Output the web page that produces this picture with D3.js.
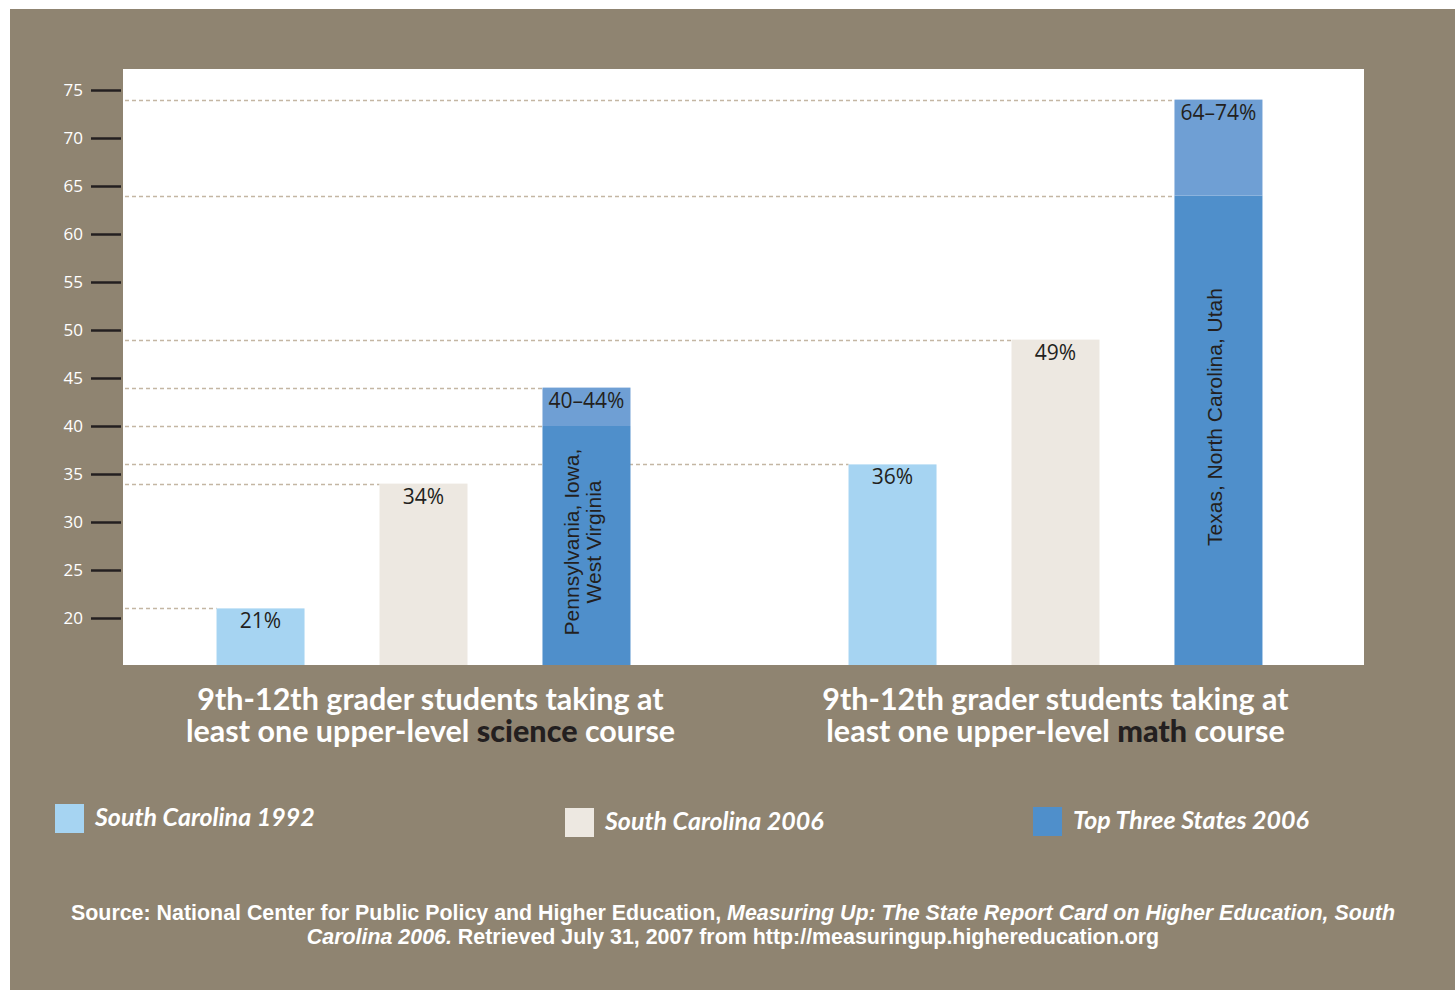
<!DOCTYPE html>
<html>
<head>
<meta charset="utf-8">
<script src="https://cdn.jsdelivr.net/npm/d3@7"></script>
<style>
  body { margin: 0; background: #fff; }
  svg { display: block; }
</style>
</head>
<body>
<svg id="chart" width="1455" height="990"></svg>
<script>
// data
const groups = ['science', 'math'];
const series = ['South Carolina 1992', 'South Carolina 2006', 'Top Three States 2006'];
const sc1992 = [21, 36];
const sc2006 = [34, 49];
const topLow = [40, 64];
const topHigh = [44, 74];
const topStates = [['Pennsylvania, Iowa,', 'West Virginia'], ['Texas, North Carolina, Utah']];
const yTicks = [20, 25, 30, 35, 40, 45, 50, 55, 60, 65, 70, 75];

const colors = {
    sc1992: '#a6d4f2',
    sc2006: '#ede8e1',
    topLow: '#4f8fcb',
    topHigh: '#6f9fd4',
    bg: '#8f8471',
    ink: '#231f20',
    dash: '#c4b6a3'
};

const svg = d3.select('#chart');
const plot = { left: 123, right: 1364, top: 69, bottom: 665 };

svg.append('rect')
    .attr('x', 10).attr('y', 9)
    .attr('width', 1445).attr('height', 981)
    .attr('fill', colors.bg);

svg.append('rect')
    .attr('x', plot.left).attr('y', plot.top)
    .attr('width', plot.right - plot.left).attr('height', plot.bottom - plot.top)
    .attr('fill', '#fff');

const y = d3.scaleLinear().domain([20, 75]).range([618, 90]);

const x0 = d3.scaleBand().domain(groups)
    .range([plot.left, 1356])
    .paddingInner(0.345)
    .paddingOuter(0.148);

const x1 = d3.scaleBand().domain(series)
    .range([0, x0.bandwidth()])
    .paddingInner(0.46)
    .paddingOuter(0);

// rows: one per bar
const rows = [];
groups.forEach((g, i) => {
    rows.push({ g, s: series[0], lo: sc1992[i], hi: sc1992[i], label: sc1992[i] + '%' });
    rows.push({ g, s: series[1], lo: sc2006[i], hi: sc2006[i], label: sc2006[i] + '%' });
    rows.push({ g, s: series[2], lo: topLow[i], hi: topHigh[i], label: topLow[i] + '\u2013' + topHigh[i] + '%', states: topStates[i] });
});

const barX = (d) => x0(d.g) + x1(d.s);

// dashed reference lines from the axis to each bar top
const refs = [];
rows.forEach((d) => {
    refs.push({ v: d.hi, x: barX(d) });
    if (d.lo !== d.hi) refs.push({ v: d.lo, x: barX(d) });
});

svg.append('g')
    .selectAll('line')
    .data(refs)
    .join('line')
    .attr('x1', plot.left + 2)
    .attr('x2', (d) => d.x)
    .attr('y1', (d) => Math.round(y(d.v)) + 0.5)
    .attr('y2', (d) => Math.round(y(d.v)) + 0.5)
    .attr('stroke', colors.dash)
    .attr('stroke-width', 1.3)
    .attr('stroke-dasharray', '4,3');

const fillFor = (s) => (s === series[0] ? colors.sc1992 : s === series[1] ? colors.sc2006 : colors.topLow);

const bars = svg.append('g');
bars.selectAll('rect.base')
    .data(rows)
    .join('rect')
    .attr('class', 'base')
    .attr('x', barX)
    .attr('width', x1.bandwidth())
    .attr('y', (d) => y(d.lo))
    .attr('height', (d) => plot.bottom - y(d.lo))
    .attr('fill', (d) => fillFor(d.s));

bars.selectAll('rect.range')
    .data(rows.filter((d) => d.hi !== d.lo))
    .join('rect')
    .attr('class', 'range')
    .attr('x', barX)
    .attr('width', x1.bandwidth())
    .attr('y', (d) => y(d.hi))
    .attr('height', (d) => y(d.lo) - y(d.hi))
    .attr('fill', colors.topHigh);

bars.selectAll('text.val')
    .data(rows)
    .join('text')
    .attr('class', 'val')
    .attr('x', (d) => barX(d) + x1.bandwidth() / 2)
    .attr('y', (d) => y(d.hi) + 20)
    .attr('text-anchor', 'middle')
    .attr('font-family', 'Open Sans, sans-serif')
    .attr('font-size', 21)
    .attr('fill', colors.ink)
    .text((d) => d.label);

// rotated state names
const stateMid = { science: 542, math: 417 };
const stateLabels = bars.selectAll('text.states')
    .data(rows.filter((d) => d.states))
    .join('text')
    .attr('class', 'states')
    .attr('transform', (d) => {
        const cx = barX(d) + x1.bandwidth() / 2;
        return `translate(${cx},${stateMid[d.g]}) rotate(-90)`;
    })
    .attr('text-anchor', 'middle')
    .attr('font-family', 'Liberation Sans, Arial, sans-serif')
    .attr('font-size', 21)
    .attr('fill', colors.ink);

stateLabels.selectAll('tspan')
    .data((d) => d.states.map((t, i) => ({ t, i, n: d.states.length })))
    .join('tspan')
    .attr('x', 0)
    .attr('y', (d) => (d.i - (d.n - 1) / 2) * 22 + 4)
    .text((d) => d.t);

// y axis
const axis = svg.append('g')
    .attr('transform', `translate(${plot.left - 2},0)`)
    .call(d3.axisLeft(y).tickValues(yTicks).tickSize(30).tickPadding(8));
axis.select('.domain').remove();
axis.selectAll('.tick line').attr('stroke', colors.ink).attr('stroke-width', 2.5);
axis.selectAll('.tick text')
    .attr('fill', '#fff')
    .attr('font-family', 'Open Sans, sans-serif')
    .attr('font-size', 17);

// group captions
const captions = [
    { g: 'science', word: 'science', dx: 7 },
    { g: 'math', word: 'math', dx: 0 }
];
captions.forEach((c) => {
    const cx = x0(c.g) + x0.bandwidth() / 2 + c.dx;
    const t = svg.append('text')
        .attr('text-anchor', 'middle')
        .attr('font-family', 'Lato, sans-serif')
        .attr('font-weight', 'bold')
        .attr('font-size', 30.5)
        .attr('fill', '#fff');
    t.append('tspan').attr('x', cx).attr('y', 710).text('9th-12th grader students taking at');
    const l2 = t.append('tspan').attr('x', cx).attr('y', 742);
    l2.append('tspan').text('least one upper-level ');
    l2.append('tspan').attr('font-weight', 900).attr('fill', colors.ink).text(c.word);
    l2.append('tspan').text(' course');
});

// legend
const legendPos = [
    { x: 55, y: 804 },
    { x: 565, y: 808 },
    { x: 1033, y: 807 }
];
const legendFill = [colors.sc1992, colors.sc2006, colors.topLow];
const legend = svg.append('g')
    .selectAll('g')
    .data(series)
    .join('g')
    .attr('transform', (d, i) => `translate(${legendPos[i].x},${legendPos[i].y})`);
legend.append('rect')
    .attr('width', 29).attr('height', 29)
    .attr('fill', (d, i) => legendFill[i]);
legend.append('text')
    .attr('x', 40).attr('y', 22)
    .attr('font-family', 'Lato, sans-serif')
    .attr('font-style', 'italic')
    .attr('font-weight', 'bold')
    .attr('font-size', 25)
    .attr('fill', '#fff')
    .text((d) => d);

// source note
const src = svg.append('text')
    .attr('text-anchor', 'middle')
    .attr('font-family', 'Liberation Sans, Arial, sans-serif')
    .attr('font-weight', 'bold')
    .attr('font-size', 21.4)
    .attr('fill', '#fff');
const s1 = src.append('tspan').attr('x', 733).attr('y', 920);
s1.append('tspan').text('Source: National Center for Public Policy and Higher Education, ');
s1.append('tspan').attr('font-style', 'italic').text('Measuring Up: The State Report Card on Higher Education, South');
const s2 = src.append('tspan').attr('x', 733).attr('y', 944);
s2.append('tspan').attr('font-style', 'italic').text('Carolina 2006.');
s2.append('tspan').text('  Retrieved July 31, 2007 from http://measuringup.highereducation.org');
</script>
</body>
</html>
